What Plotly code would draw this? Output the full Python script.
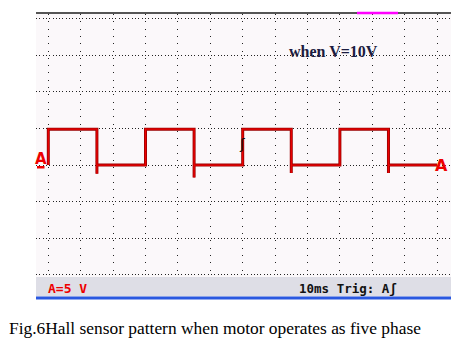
import plotly.graph_objects as go

# Waveform (time in ms, 10 ms/div; voltage in V, 5 V/div)
time_ms = [0, 0, 15, 15, 15, 30, 30, 45, 45, 45, 60, 60, 75, 75, 75,
           90, 90, 105, 105, 105, 120]
volts = [0, 4.9, 4.9, -1.2, 0, 0, 4.9, 4.9, -1.7, 0, 0, 4.9, 4.9, -1.1, 0,
         0, 4.9, 4.9, -1.1, 0, 0]

W, H = 465, 346
def px(x):
    return x / W
def py(y):
    return 1 - y / H

fig = go.Figure()
fig.add_trace(go.Scatter(x=time_ms, y=volts, mode="lines",
                         line=dict(color="#9a0000", width=3.0), hoverinfo="skip"))
fig.add_trace(go.Scatter(x=time_ms, y=volts, mode="lines",
                         line=dict(color="#ee0000", width=1.3), hoverinfo="skip"))

fig.update_layout(
    width=W, height=H, margin=dict(l=0, r=0, t=0, b=0),
    paper_bgcolor="white", plot_bgcolor="#fbf8fa", showlegend=False,
    xaxis=dict(domain=[px(36), px(451)], range=[-3.8, 124.3], dtick=10, tick0=0,
               showgrid=True, gridcolor="#222222", gridwidth=1, griddash="1px,6.3px",
               zeroline=False, showticklabels=False, ticks="", showline=False),
    yaxis=dict(domain=[py(277), py(14)], range=[-15.31, 20.65], dtick=5, tick0=0,
               showgrid=True, gridcolor="#222222", gridwidth=1, griddash="1px,2.3px",
               zeroline=False, showticklabels=False, ticks="", showline=False),
)

shapes = [
    # top bar
    dict(type="line", xref="paper", yref="paper", x0=px(36), x1=px(451), y0=py(13), y1=py(13),
         line=dict(color="#555555", width=2)),
    dict(type="line", xref="paper", yref="paper", x0=px(357), x1=px(398), y0=py(13), y1=py(13),
         line=dict(color="#ff00ff", width=2.5)),
    # status bar
    dict(type="rect", xref="paper", yref="paper", x0=px(36), x1=px(451), y0=py(296.5), y1=py(277),
         fillcolor="#dedee6", line=dict(width=0)),
    dict(type="rect", xref="paper", yref="paper", x0=px(36), x1=px(451), y0=py(299.5), y1=py(296.5),
         fillcolor="#2a58e0", line=dict(width=0)),
    # underline of left channel marker
    dict(type="rect", xref="paper", yref="paper", x0=px(37), x1=px(44.5), y0=py(168.5), y1=py(166),
         fillcolor="#ee0000", line=dict(width=0)),
]
fig.update_layout(shapes=shapes)

def note(text, x, y, size, color, family, xanchor="center"):
    return dict(text=text, x=px(x), y=py(y), xref="paper", yref="paper", showarrow=False,
                xanchor=xanchor, yanchor="middle",
                font=dict(family=family, size=size, color=color))

ann = [
    note("<b>when V=10V</b>", 333.5, 51.5, 16, "#1c1c40", "Liberation Serif"),
    note("<b>A</b>", 41, 158.5, 15, "#ee0000", "DejaVu Sans"),
    note("<b>A</b>", 441.5, 166, 16, "#ee0000", "DejaVu Sans"),
    note("ʃ", 242, 144, 14, "#111111", "DejaVu Sans"),
    note("<b>A=5 V</b>", 46, 288, 13, "#ee0000", "DejaVu Sans Mono", "left"),
    note("<b>10ms Trig: Aʃ</b>", 297, 288, 12.5, "#111111", "DejaVu Sans Mono", "left"),
    note("Fig.6Hall sensor pattern when motor operates as five phase", 7, 328, 17.4,
         "#000000", "Liberation Serif", "left"),
]
fig.update_layout(annotations=ann)

fig.write_html("out.html")
